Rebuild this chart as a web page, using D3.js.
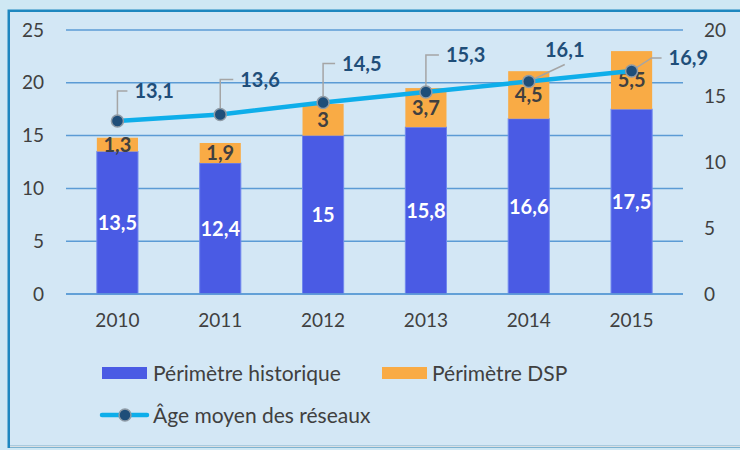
<!DOCTYPE html>
<html>
<head>
<meta charset="utf-8">
<script src="https://cdn.jsdelivr.net/npm/d3@7"></script>
<style>
  html, body { margin: 0; padding: 0; background: #cfe8f4; }
  svg { display: block; font-family: Lato, 'Open Sans', sans-serif; }
</style>
</head>
<body>
<div id="chart"></div>
<script>
const years = ['2010', '2011', '2012', '2013', '2014', '2015']
const historique = [13.5, 12.4, 15, 15.8, 16.6, 17.5]
const dsp = [1.3, 1.9, 3, 3.7, 4.5, 5.5]
const ageMoyen = [13.1, 13.6, 14.5, 15.3, 16.1, 16.9]
const leftTicks = [0, 5, 10, 15, 20, 25]
const rightTicks = [0, 5, 10, 15, 20]
const seriesNames = ['Périmètre historique', 'Périmètre DSP', 'Âge moyen des réseaux']

const fmt = v => String(v).replace('.', ',')

const width = 740
const height = 450
const plot = { left: 66, right: 683, top: 30, bottom: 294 }

const svg = d3.select('#chart').append('svg')
  .attr('width', width)
  .attr('height', height)

// frame
svg.append('rect')
  .attr('x', 8.75).attr('y', 10.75)
  .attr('width', 800).attr('height', 436)
  .attr('fill', '#d3e7f5')
  .attr('stroke', '#1e87bf')
  .attr('stroke-width', 2.5)
svg.append('line')
  .attr('x1', 10).attr('x2', width)
  .attr('y1', 446.5).attr('y2', 446.5)
  .attr('stroke', '#d9dfe3')
  .attr('stroke-width', 2)

const x = d3.scaleBand()
  .domain(years)
  .range([plot.left, plot.right])
  .paddingInner(0.6)
  .paddingOuter(0.3)

const yLeft = d3.scaleLinear().domain([0, 25]).range([plot.bottom, plot.top])
const yRight = d3.scaleLinear().domain([0, 20]).range([plot.bottom, plot.top])

// gridlines
svg.append('g')
  .selectAll('line')
  .data(leftTicks)
  .enter().append('line')
  .attr('x1', plot.left).attr('x2', plot.right)
  .attr('y1', d => yLeft(d)).attr('y2', d => yLeft(d))
  .attr('stroke', '#5b9bd5')
  .attr('stroke-width', 1.5)

// left axis
const leftAxis = svg.append('g')
  .attr('transform', 'translate(44,0)')
  .call(d3.axisLeft(yLeft).tickValues(leftTicks).tickSize(0).tickPadding(0))
leftAxis.select('.domain').remove()
leftAxis.selectAll('text')
  .attr('font-size', 19).attr('fill', '#404040').attr('font-family', 'Lato')

// right axis
const rightAxis = svg.append('g')
  .attr('transform', 'translate(704,0)')
  .call(d3.axisRight(yRight).tickValues(rightTicks).tickSize(0).tickPadding(0))
rightAxis.select('.domain').remove()
rightAxis.selectAll('text')
  .attr('font-size', 19).attr('fill', '#404040').attr('font-family', 'Lato')

// x axis
const xAxis = svg.append('g')
  .attr('transform', 'translate(0,' + plot.bottom + ')')
  .call(d3.axisBottom(x).tickSize(0).tickPadding(20))
xAxis.select('.domain').remove()
xAxis.selectAll('text')
  .attr('font-size', 19).attr('fill', '#404040').attr('font-family', 'Lato')

// stacked bars
const rows = years.map((y, i) => ({ year: y, historique: historique[i], dsp: dsp[i] }))
const stack = d3.stack().keys(['historique', 'dsp'])(rows)
const fills = { historique: '#4a5be4', dsp: '#f9ab45' }
const strokes = { historique: '#7088ee', dsp: 'none' }

stack.forEach(layer => {
  svg.append('g')
    .selectAll('rect')
    .data(layer)
    .enter().append('rect')
    .attr('x', d => x(d.data.year))
    .attr('width', x.bandwidth())
    .attr('y', d => yLeft(d[1]))
    .attr('height', d => yLeft(d[0]) - yLeft(d[1]))
    .attr('fill', fills[layer.key])
    .attr('stroke', strokes[layer.key])
    .attr('stroke-width', 1)
})

// zero line on top of the bars
svg.append('line')
  .attr('x1', plot.left).attr('x2', plot.right)
  .attr('y1', yLeft(0)).attr('y2', yLeft(0))
  .attr('stroke', '#5b9bd5')
  .attr('stroke-width', 1.5)

// bar labels
stack.forEach(layer => {
  svg.append('g')
    .selectAll('text')
    .data(layer)
    .enter().append('text')
    .attr('x', d => x(d.data.year) + x.bandwidth() / 2)
    .attr('y', d => (yLeft(d[0]) + yLeft(d[1])) / 2)
    .attr('dy', '0.36em')
    .attr('text-anchor', 'middle')
    .attr('font-size', 20)
    .attr('font-weight', 'bold')
    .attr('fill', layer.key === 'historique' ? '#ffffff' : '#404040')
    .text(d => fmt(d.data[layer.key]))
})

// line series
const pts = years.map((y, i) => ({ year: y, v: ageMoyen[i] }))
const cx = d => x(d.year) + x.bandwidth() / 2

svg.append('path')
  .datum(pts)
  .attr('fill', 'none')
  .attr('stroke', '#0eaeea')
  .attr('stroke-width', 4.5)
  .attr('d', d3.line().x(cx).y(d => yRight(d.v)))

// callout leaders (layout only: offset of elbow from the marker)
const callouts = [
  { ex: 0, ey: -30, hx: 10 },
  { ex: 0, ey: -35, hx: 13 },
  { ex: 0, ey: -39, hx: 12 },
  { ex: 0, ey: -37, hx: 13 },
  { ex: 36, ey: -17, hx: 0, above: true },
  { ex: 20, ey: -13, hx: 10 }
]

const lbl = svg.append('g')
pts.forEach((d, i) => {
  const mx = cx(d)
  const my = yRight(d.v)
  const c = callouts[i]
  const ex = mx + c.ex
  const ey = my + c.ey
  lbl.append('polyline')
    .attr('points', [[mx, my], [ex, ey], [ex + c.hx, ey]].map(p => p.join(',')).join(' '))
    .attr('fill', 'none')
    .attr('stroke', '#a5a5a5')
    .attr('stroke-width', 1.5)
  lbl.append('text')
    .attr('x', c.above ? ex : ex + c.hx + 7)
    .attr('y', c.above ? ey - 15 : ey)
    .attr('dy', '0.36em')
    .attr('text-anchor', c.above ? 'middle' : 'start')
    .attr('font-size', 20)
    .attr('font-weight', 'bold')
    .attr('fill', '#1f4e79')
    .text(fmt(d.v))
})

svg.append('g')
  .selectAll('circle')
  .data(pts)
  .enter().append('circle')
  .attr('cx', cx)
  .attr('cy', d => yRight(d.v))
  .attr('r', 6)
  .attr('fill', '#1f4e79')
  .attr('stroke', '#8f9ba6')
  .attr('stroke-width', 1.5)

// legend
const legend = svg.append('g').attr('font-size', 21).attr('fill', '#404040')
const row1 = 373
const row2 = 415

legend.append('rect').attr('x', 102).attr('y', row1 - 6).attr('width', 45).attr('height', 12).attr('fill', fills.historique)
legend.append('text').attr('x', 153).attr('y', row1).attr('dy', '0.36em').text(seriesNames[0])

legend.append('rect').attr('x', 382).attr('y', row1 - 6).attr('width', 45).attr('height', 12).attr('fill', fills.dsp)
legend.append('text').attr('x', 432).attr('y', row1).attr('dy', '0.36em').text(seriesNames[1])

legend.append('line')
  .attr('x1', 102).attr('x2', 147).attr('y1', row2).attr('y2', row2)
  .attr('stroke', '#0eaeea').attr('stroke-width', 4.5).attr('stroke-linecap', 'round')
legend.append('circle').attr('cx', 125).attr('cy', row2).attr('r', 6)
  .attr('fill', '#1f4e79').attr('stroke', '#8f9ba6').attr('stroke-width', 1.5)
legend.append('text').attr('x', 153).attr('y', row2).attr('dy', '0.36em').text(seriesNames[2])
</script>
</body>
</html>
